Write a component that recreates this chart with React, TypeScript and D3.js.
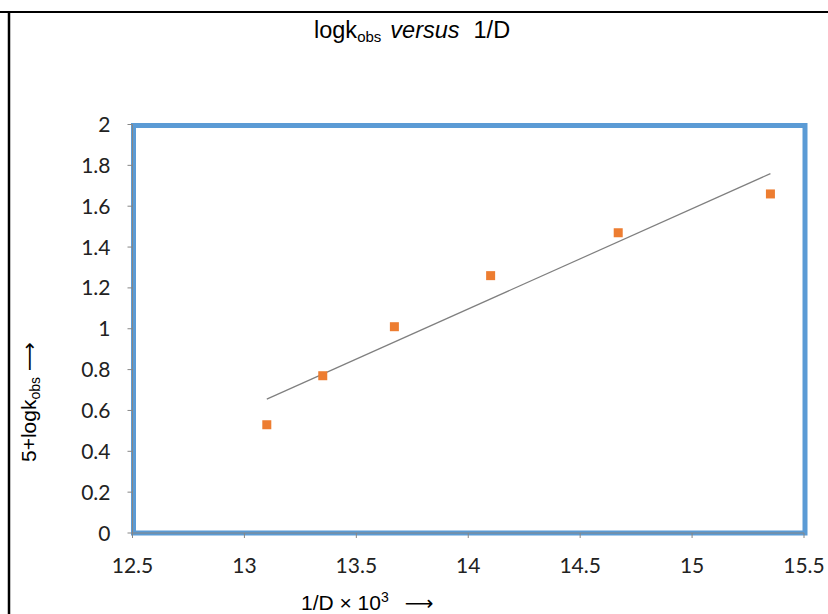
import React from "react";
import * as d3 from "d3";

// data
const xValues = [13.1, 13.35, 13.67, 14.1, 14.67, 15.35];
const yValues = [0.53, 0.77, 1.01, 1.26, 1.47, 1.66];
const xTicks = [12.5, 13, 13.5, 14, 14.5, 15, 15.5];
const yTicks = [0, 0.2, 0.4, 0.6, 0.8, 1, 1.2, 1.4, 1.6, 1.8, 2];

const W = 828;
const H = 614;
const plot = { left: 132.5, right: 804, top: 124.5, bottom: 533 };

const App = () => {
  const x = d3.scaleLinear().domain([12.5, 15.5]).range([plot.left, plot.right]);
  const y = d3.scaleLinear().domain([0, 2]).range([plot.bottom, plot.top]);

  // linear trendline (least squares)
  const mx = d3.mean(xValues) as number;
  const my = d3.mean(yValues) as number;
  const sxy = d3.sum(xValues, (v, i) => (v - mx) * (yValues[i] - my));
  const sxx = d3.sum(xValues, (v) => (v - mx) * (v - mx));
  const slope = sxy / sxx;
  const icpt = my - slope * mx;
  const x0 = d3.min(xValues) as number;
  const x1 = d3.max(xValues) as number;
  const trend = d3.line<number>().x((v) => x(v)).y((v) => y(slope * v + icpt));

  const tickFont = "Lato, 'Liberation Sans', sans-serif";
  const labelFont = "'Liberation Sans', Arial, sans-serif";
  const arrowFont = "'DejaVu Sans', sans-serif";

  return (
    <svg
      width={W}
      height={H}
      style={{ position: "absolute", left: 0, top: 0, background: "#fff" }}
    >
      {/* outer frame */}
      <line x1={0} x2={W} y1={12} y2={12} stroke="#000" strokeWidth={2} />
      <line x1={9} x2={9} y1={11} y2={H} stroke="#000" strokeWidth={2.5} />

      {/* title */}
      <text
        x={314}
        y={38}
        fontFamily={labelFont}
        fontSize={23.5}
        fill="#000"
      >
        logk
        <tspan fontSize={15} dy={4}>obs</tspan>
        <tspan dy={-4} fontStyle="italic" dx={9}>versus</tspan>
        <tspan dx={14}>1/D</tspan>
      </text>

      {/* plot area border */}
      <rect
        x={plot.left + 1}
        y={plot.top + 1}
        width={plot.right - plot.left}
        height={plot.bottom - plot.top - 1}
        fill="none"
        stroke="#5B9BD5"
        strokeWidth={5}
      />

      {/* y axis */}
      <line x1={plot.left} x2={plot.left} y1={plot.top} y2={plot.bottom} stroke="#868686" />
      {yTicks.map((t) => (
        <g key={"y" + t}>
          <line x1={plot.left - 5} x2={plot.left} y1={y(t)} y2={y(t)} stroke="#868686" />
          <text
            x={plot.left - 22}
            y={y(t)}
            dy="0.36em"
            textAnchor="end"
            fontFamily={tickFont}
            fontSize={21}
            fill="#222"
          >
            {t}
          </text>
        </g>
      ))}

      {/* x axis */}
      <line x1={plot.left} x2={plot.right} y1={plot.bottom} y2={plot.bottom} stroke="#868686" />
      {xTicks.map((t) => (
        <g key={"x" + t}>
          <line x1={x(t)} x2={x(t)} y1={plot.bottom} y2={plot.bottom + 5} stroke="#868686" />
          <text
            x={x(t)}
            y={573}
            textAnchor="middle"
            fontFamily={tickFont}
            fontSize={21}
            fill="#222"
          >
            {t}
          </text>
        </g>
      ))}

      {/* trendline */}
      <path d={trend([x0, x1]) || ""} fill="none" stroke="#7f7f7f" strokeWidth={1.2} />

      {/* points */}
      {xValues.map((v, i) => (
        <rect
          key={"p" + i}
          x={x(v) - 4.5}
          y={y(yValues[i]) - 4.5}
          width={9}
          height={9}
          fill="#ED7D31"
        />
      ))}

      {/* axis titles */}
      <text x={301} y={610} fontFamily={labelFont} fontSize={21} fill="#000">
        1/D × 10
        <tspan fontSize={14} dy={-8}>3</tspan>
        <tspan dy={8} dx={16} fontFamily={arrowFont} fontSize={20}>⟶</tspan>
      </text>
      <text
        transform={`translate(36, 462) rotate(-90)`}
        fontFamily={labelFont}
        fontSize={21}
        fill="#000"
      >
        5+logk
        <tspan fontSize={14} dy={4}>obs</tspan>
        <tspan dy={-4} dx={6} fontFamily={arrowFont} fontSize={20}>⟶</tspan>
      </text>
    </svg>
  );
};

export default App;
